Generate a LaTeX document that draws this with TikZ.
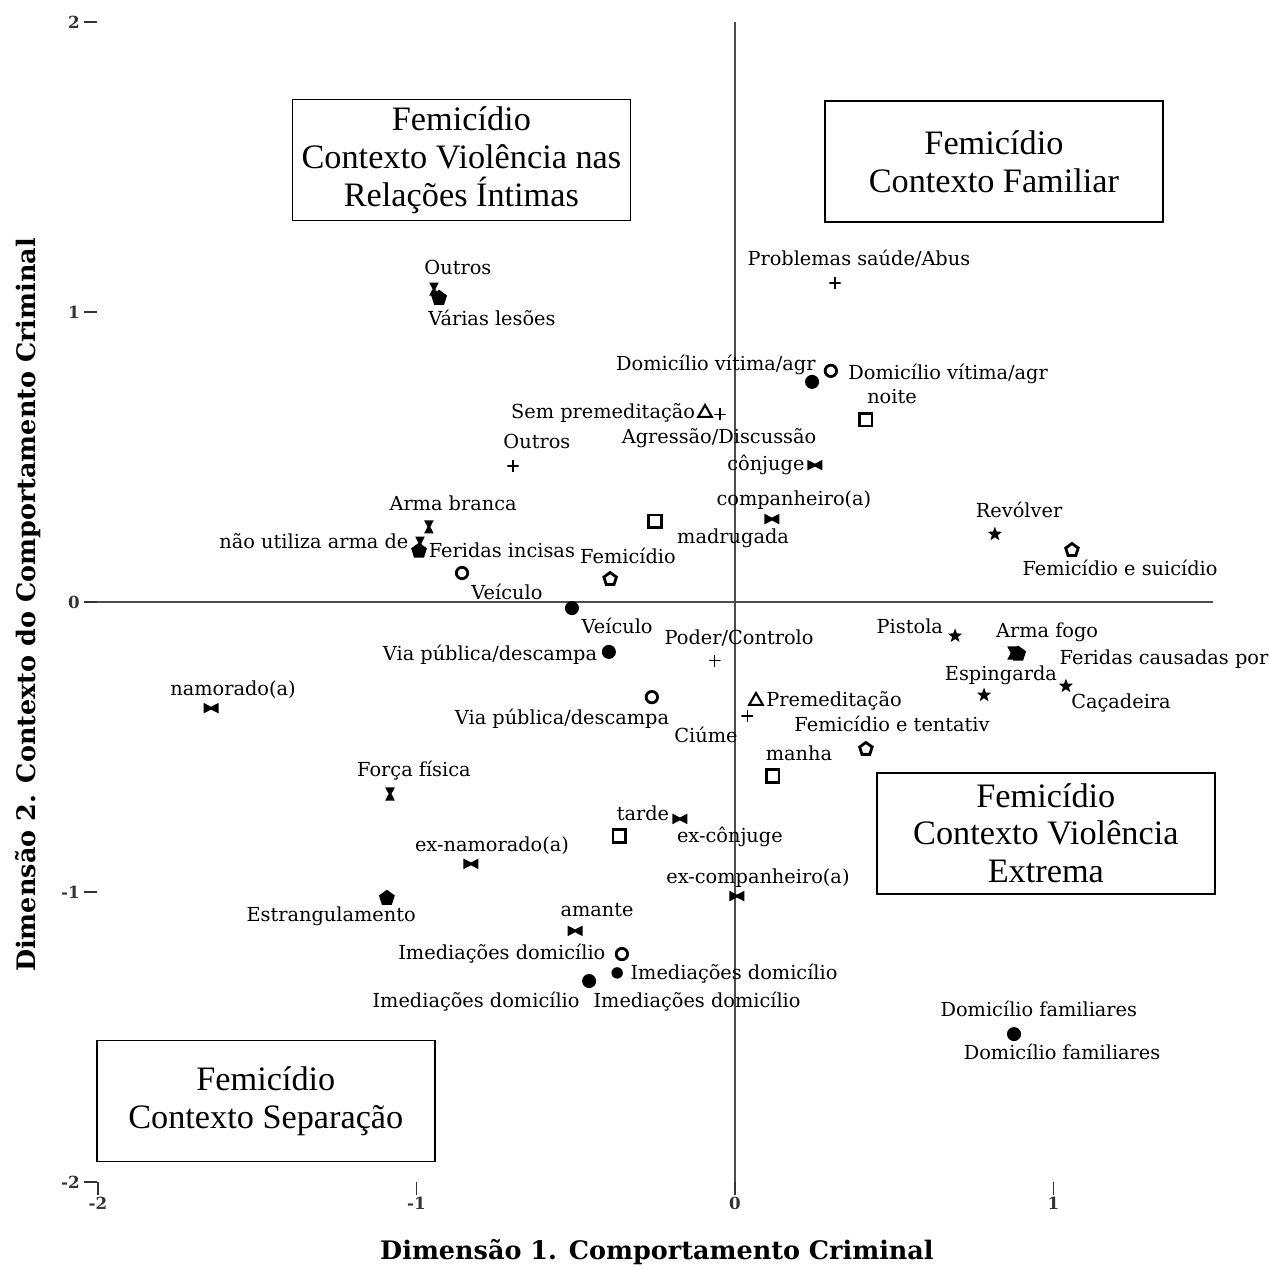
\documentclass[tikz,border=0pt]{standalone}
\usepackage{fontspec}
\setmainfont{DejaVu Serif}
\newfontfamily\boxfont{Liberation Serif}
\usetikzlibrary{shapes.geometric}

\begin{document}
\begin{tikzpicture}[x=6.37cm,y=5.8cm,
  axis/.style={black!70,line width=0.9pt},
  tick/.style={black!80,line width=0.7pt},
  ticklbl/.style={font=\fontsize{9.5}{10}\selectfont\bfseries,inner sep=1pt},
  axtitle/.style={font=\fontsize{14.5}{16}\selectfont\bfseries},
  lbl/.style={font=\fontsize{11}{13}\selectfont,anchor=base,inner sep=0pt},
  quad/.style={draw,line width=1pt,minimum width=6.76cm,minimum height=2.42cm,
               align=center,font=\boxfont\fontsize{19.5}{21.5}\selectfont},
  mk/.style={inner sep=0pt,outer sep=0pt},
  dotfill/.style={mk,circle,fill,minimum size=8pt},
  dotopen/.style={mk,circle,draw,line width=1.6pt,minimum size=6.5pt},
  sqopen/.style={mk,rectangle,draw,line width=1.6pt,minimum size=7pt},
  triopen/.style={mk,regular polygon,regular polygon sides=3,draw,line width=1.2pt,minimum size=9pt},
  pentopen/.style={mk,regular polygon,regular polygon sides=5,draw,line width=1.6pt,minimum size=7.5pt},
  pentfill/.style={mk,regular polygon,regular polygon sides=5,fill,minimum size=9.5pt},
  starfill/.style={mk,star,star points=5,star point ratio=2.4,fill,minimum size=8.5pt},
  plusmk/.style={mk,minimum size=6.5pt,path picture={
      \draw[line width=0.6pt] (path picture bounding box.north) -- (path picture bounding box.south)
        (path picture bounding box.west) -- (path picture bounding box.east);}},
  bowtie/.style={mk,minimum width=8.5pt,minimum height=6pt,path picture={
      \fill (path picture bounding box.north west) -- (path picture bounding box.south west)
        -- ([yshift=-0.8pt]path picture bounding box.center) -- (path picture bounding box.south east)
        -- (path picture bounding box.north east) -- ([yshift=0.8pt]path picture bounding box.center) -- cycle;}},
  hourglass/.style={mk,minimum width=5.5pt,minimum height=7.5pt,path picture={
      \fill (path picture bounding box.north west) -- (path picture bounding box.north east)
        -- ([xshift=0.8pt]path picture bounding box.center) -- (path picture bounding box.south east)
        -- (path picture bounding box.south west) -- ([xshift=-0.8pt]path picture bounding box.center) -- cycle;}},
]
\path[use as bounding box,fill=white] (-2.3077,-2.3) rectangle (1.6766,2.0759);

% axes
\draw[axis] (-2.044,0) -- (1.501,0);
\draw[axis] (0,2) -- (0,-2.045);
\foreach \v in {2,1,0,-1,-2}
  \draw[tick] (-2.044,\v) -- (-2.003,\v) node[ticklbl,anchor=east,name=yt\v] at (-2.05,\v) {\v};
\foreach \v in {-2,-1,0,1}
  \draw[tick] (\v,-2) -- (\v,-2.045) node[ticklbl,below,name=xt\v] {\v};
\node[axtitle] (xtitle) at (-0.245,-2.241) {Dimensão 1. Comportamento Criminal};
\node[axtitle,rotate=90] (ytitle) at (-2.22,-0.01) {Dimensão 2. Contexto do Comportamento Criminal};

% quadrant boxes
\node[quad] (qintimas) at (-0.859,1.524) {Femicídio\\Contexto Violência nas\\Relações Íntimas};
\node[quad] (qfamiliar) at (0.813,1.519) {Femicídio\\Contexto Familiar};
\node[quad] (qextrema) at (0.976,-0.797) {Femicídio\\Contexto Violência\\Extrema};
\node[quad] (qseparacao) at (-1.473,-1.721) {Femicídio\\Contexto Separação};

% meio
\node[hourglass] (outrosm) at (-0.945,1.079) {};
\node[hourglass] (branca) at (-0.961,0.259) {};
\node[hourglass] (semarma) at (-0.989,0.203) {};
\node[hourglass] (forca) at (-1.083,-0.662) {};
\node[hourglass] (fogo) at (0.870,-0.176) {};
% lesoes
\node[pentfill] (varias) at (-0.929,1.048) {};
\node[pentfill] (incisas) at (-0.992,0.176) {};
\node[pentfill] (causadas) at (0.889,-0.179) {};
\node[pentfill] (estrang) at (-1.093,-1.021) {};
% motivo
\node[plusmk] (saude) at (0.314,1.100) {};
\node[plusmk] (agressao) at (-0.047,0.648) {};
\node[plusmk] (outrosmot) at (-0.697,0.469) {};
\node[plusmk] (poder) at (-0.063,-0.203) {};
\node[plusmk] (ciume) at (0.038,-0.393) {};
% premeditacao
\node[triopen] (sempre) at (-0.094,0.652) {};
\node[triopen] (preme) at (0.066,-0.341) {};
% local
\node[dotfill] (domvitA) at (0.242,0.759) {};
\node[dotopen] (domvitB) at (0.301,0.797) {};
\node[dotopen] (veicA) at (-0.857,0.100) {};
\node[dotfill] (veicB) at (-0.512,-0.021) {};
\node[dotfill] (viaA) at (-0.396,-0.172) {};
\node[dotopen] (viaB) at (-0.261,-0.328) {};
\node[dotopen] (imedA) at (-0.355,-1.214) {};
\node[dotfill,minimum size=6.5pt] (imedB) at (-0.370,-1.279) {};
\node[dotfill] (imedC) at (-0.458,-1.307) {};
\node[dotfill] (domfam) at (0.876,-1.490) {};
% periodo
\node[sqopen] (noite) at (0.411,0.628) {};
\node[sqopen] (madrug) at (-0.251,0.279) {};
\node[sqopen] (manha) at (0.119,-0.600) {};
\node[sqopen] (tarde) at (-0.364,-0.807) {};
% relacao
\node[bowtie] (conjuge) at (0.251,0.472) {};
\node[bowtie] (companh) at (0.116,0.286) {};
\node[bowtie] (namor) at (-1.645,-0.366) {};
\node[bowtie] (exconj) at (-0.173,-0.748) {};
\node[bowtie] (exnamor) at (-0.829,-0.903) {};
\node[bowtie] (excomp) at (0.006,-1.014) {};
\node[bowtie] (amante) at (-0.502,-1.134) {};
% arma
\node[starfill] (revolver) at (0.816,0.234) {};
\node[starfill] (pistola) at (0.691,-0.117) {};
\node[starfill] (esping) at (0.782,-0.321) {};
\node[starfill] (cacad) at (1.039,-0.290) {};
% desfecho
\node[pentopen] (femic) at (-0.392,0.079) {};
\node[pentopen] (suicid) at (1.058,0.179) {};
\node[pentopen] (tentat) at (0.411,-0.507) {};

% labels
\node[lbl] (l1) at (-0.870,1.131) {Outros};
\node[lbl] (l2) at (-0.763,0.955) {Várias lesões};
\node[lbl] (l3) at (0.389,1.159) {Problemas saúde/Abus};
\node[lbl] (l4) at (-0.060,0.800) {Domicílio vítima/agr};
\node[lbl] (l5) at (0.669,0.766) {Domicílio vítima/agr};
\node[lbl] (l6) at (0.493,0.686) {noite};
\node[lbl] (l7) at (-0.414,0.634) {Sem premeditação};
\node[lbl] (l8) at (-0.050,0.545) {Agressão/Discussão};
\node[lbl] (l9) at (-0.622,0.528) {Outros};
\node[lbl] (l10) at (0.097,0.452) {cônjuge};
\node[lbl] (l11) at (0.185,0.334) {companheiro(a)};
\node[lbl] (l12) at (-0.006,0.203) {madrugada};
\node[lbl] (l13) at (-0.885,0.314) {Arma branca};
\node[lbl] (l14) at (-1.322,0.183) {não utiliza arma de};
\node[lbl] (l15) at (-0.732,0.152) {Feridas incisas};
\node[lbl] (l16) at (-0.336,0.134) {Femicídio};
\node[lbl] (l17) at (-0.716,0.007) {Veículo};
\node[lbl] (l18) at (-0.370,-0.110) {Veículo};
\node[lbl] (l19) at (-0.769,-0.200) {Via pública/descampa};
\node[lbl] (l20) at (0.013,-0.145) {Poder/Controlo};
\node[lbl] (l21) at (-1.576,-0.321) {namorado(a)};
\node[lbl] (l22) at (-0.543,-0.421) {Via pública/descampa};
\node[lbl] (l23) at (0.311,-0.362) {Premeditação};
\node[lbl] (l24) at (-0.091,-0.486) {Ciúme};
\node[lbl] (l25) at (0.493,-0.445) {Femicídio e tentativ};
\node[lbl] (l26) at (0.201,-0.548) {manha};
\node[lbl] (l27) at (0.549,-0.110) {Pistola};
\node[lbl] (l28) at (0.980,-0.124) {Arma fogo};
\node[lbl] (l29) at (1.347,-0.214) {Feridas causadas por};
\node[lbl] (l30) at (0.835,-0.272) {Espingarda};
\node[lbl] (l31) at (1.212,-0.366) {Caçadeira};
\node[lbl] (l32) at (0.892,0.293) {Revólver};
\node[lbl] (l33) at (1.209,0.093) {Femicídio e suicídio};
\node[lbl] (l34) at (-1.008,-0.603) {Força física};
\node[lbl] (l35) at (-0.289,-0.752) {tarde};
\node[lbl] (l36) at (-0.016,-0.831) {ex-cônjuge};
\node[lbl] (l37) at (-0.763,-0.859) {ex-namorado(a)};
\node[lbl] (l38) at (0.072,-0.972) {ex-companheiro(a)};
\node[lbl] (l39) at (-1.268,-1.103) {Estrangulamento};
\node[lbl] (l40) at (-0.433,-1.086) {amante};
\node[lbl] (l41) at (-0.732,-1.234) {Imediações domicílio};
\node[lbl] (l42) at (-0.003,-1.303) {Imediações domicílio};
\node[lbl] (l43) at (-0.813,-1.397) {Imediações domicílio};
\node[lbl] (l44) at (-0.119,-1.397) {Imediações domicílio};
\node[lbl] (l45) at (0.954,-1.431) {Domicílio familiares};
\node[lbl] (l46) at (1.027,-1.579) {Domicílio familiares};
\end{tikzpicture}
\end{document}
